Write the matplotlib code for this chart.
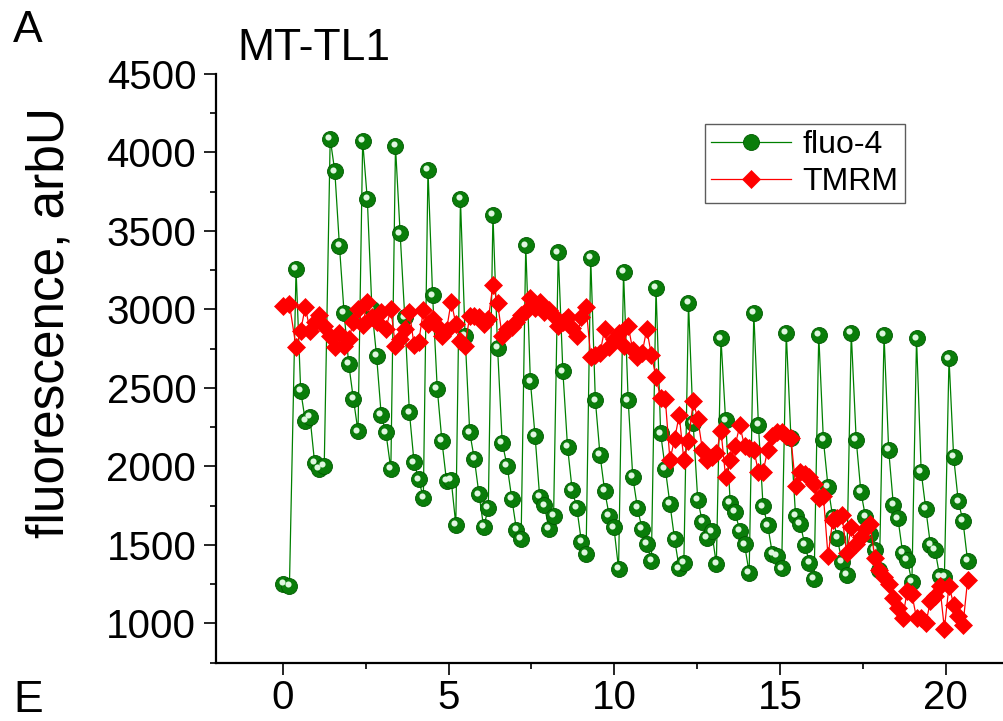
import matplotlib
matplotlib.use("Agg")
import matplotlib.pyplot as plt
import matplotlib.transforms as mtransforms
from matplotlib.ticker import MultipleLocator

plt.rcParams['font.family'] = ['Liberation Sans', 'DejaVu Sans']

# ---- data (time in arbitrary units, fluorescence in arbU) ----
time_pre = [0.02, 0.20, 0.40, 0.54, 0.68, 0.82, 0.96, 1.10, 1.25]
time_main = [
    1.43, 1.57, 1.71, 1.85, 1.99, 2.13, 2.27, 2.41, 2.55, 2.69, 2.83, 2.97, 3.11, 3.26,
    3.40, 3.54, 3.68, 3.82, 3.96, 4.10, 4.24, 4.38, 4.52, 4.66, 4.80, 4.94, 5.08, 5.22,
    5.36, 5.50, 5.64, 5.78, 5.92, 6.06, 6.20, 6.34, 6.48, 6.62, 6.77, 6.91, 7.05, 7.19,
    7.33, 7.47, 7.61, 7.75, 7.89, 8.03, 8.17, 8.31, 8.45, 8.59, 8.73, 8.87, 9.01, 9.15,
    9.29, 9.43, 9.57, 9.71, 9.85, 9.99, 10.13, 10.28, 10.42, 10.56, 10.70, 10.84, 10.98, 11.12,
    11.26, 11.40, 11.54, 11.68, 11.82, 11.96, 12.10, 12.24, 12.38, 12.52, 12.66, 12.80, 12.94, 13.08,
    13.22, 13.36, 13.50, 13.64, 13.79, 13.93, 14.07, 14.21, 14.35, 14.49, 14.63, 14.77, 14.91, 15.05,
    15.19, 15.33, 15.47, 15.61, 15.75, 15.89, 16.03, 16.17, 16.31, 16.45, 16.59, 16.73, 16.87, 17.01,
    17.15, 17.30, 17.44, 17.58, 17.72, 17.86, 18.00, 18.14, 18.28, 18.42, 18.56, 18.70, 18.84, 18.98,
    19.12, 19.26, 19.40, 19.54, 19.68, 19.82, 19.96, 20.10, 20.24, 20.38, 20.52, 20.66,
]
time = time_pre + time_main

fluo4 = [
    1252, 1237, 3257, 2482, 2289, 2316, 2024, 1982, 2002,
    4088, 3879, 3403, 2976, 2651, 2430, 2224,
    4072, 3702, 3000, 2702, 2327, 2217, 1982,
    4040, 3485, 2950, 2344, 2026, 1917, 1800,
    3890, 3090, 2496, 2164, 1906, 1914, 1629,
    3702, 2831, 2217, 2046, 1822, 1614, 1735,
    3605, 2754, 2151, 2002, 1794, 1597, 1537,
    3408, 2542, 2197, 1807, 1752, 1603, 1686,
    3364, 2605, 2127, 1851, 1735, 1520, 1445,
    3329, 2421, 2075, 1844, 1686, 1612, 1349,
    3237, 2421, 1932, 1735, 1603, 1509, 1399,
    3138, 2210, 1987, 1763, 1537, 1351, 1384,
    3044, 2276, 1785, 1647, 1544, 1586, 1377,
    2816, 2294, 1768, 1713, 1588, 1504, 1322,
    2980, 2265, 1746, 1625, 1445, 1428, 1351,
    2849, 2184, 1686, 1636, 1500, 1384, 1285,
    2838, 2167, 1871, 1680, 1545, 1390, 1307,
    2851, 2169, 1838, 1680, 1570, 1467, 1340,
    2836, 2103, 1757, 1669, 1450, 1406, 1263,
    2816, 1965, 1728, 1500, 1467, 1300, 1296,
    2689, 2059, 1778, 1653, 1399,
]

tmrm = [
    3025, 3035, 2760, 2866, 3017, 2866, 2920, 2963, 2897,
    2830, 2760, 2850, 2765, 2810, 2920, 3000, 2900, 3050, 2950, 2920, 2985, 2875, 3005,
    2765, 2810, 2875, 2985, 2775, 2790, 2995,
    2910, 2940, 2897, 2830, 2870, 3050, 2910, 2800, 2765, 2960, 2960, 2950, 2910, 2940,
    3154, 3040, 2830, 2875, 2886, 2920,
    2963, 2990, 3072, 3007, 3050, 2985, 2996, 2960, 2897, 2919, 2952, 2880, 2831, 2950,
    3018, 2700, 2710, 2721, 2875, 2760, 2809, 2853, 2765,
    2897, 2740, 2700, 2721, 2875, 2711, 2568, 2436, 2430, 2042, 2173, 2327, 2042, 2162,
    2414, 2305, 2107, 2042, 2060, 2086, 2228, 1932, 2042, 2129, 2261, 2129, 2118, 2107,
    1965, 1965, 2107, 2195, 2217, 2217, 2195, 2184, 1877, 1965, 1954, 1932, 1888, 1800, 1811,
    1428, 1658, 1670, 1691, 1450, 1614, 1504, 1548, 1600, 1636, 1417, 1340, 1296, 1252,
    1164, 1100, 1033, 1208, 1186, 1033, 1033, 1000, 1143, 1176, 1241, 967, 1241, 1120,
    1050, 989, 1274,
]

series_labels = ["fluo-4", "TMRM"]
x_ticks = [0, 5, 10, 15, 20]
y_ticks = [1000, 1500, 2000, 2500, 3000, 3500, 4000, 4500]

W, H = 1004, 721
fig = plt.figure(figsize=(W / 100, H / 100), dpi=100)
ax = fig.add_axes([216.5 / W, (H - 662.7) / H, (1012 - 216.5) / W, (662.7 - 74) / H])

green = '#008000'
red = '#ff0000'

lg, = ax.plot(time, fluo4, '-', color=green, lw=0.9, marker='o', ms=11.5,
              mfc='#0a7d0a', mec='#005a00', mew=0.6, zorder=2, label=series_labels[0])
# glossy highlight on green balls
hl = mtransforms.offset_copy(ax.transData, fig=fig, x=-1.8, y=1.8, units='dots')
ax.plot(time, fluo4, 'o', ms=4.4, mfc='#dff7df', mec='none', transform=hl, zorder=2.1)

lr, = ax.plot(time, tmrm, '-', color=red, lw=0.9, marker='D', ms=9,
              mfc=red, mec=red, mew=0.5, zorder=3, label=series_labels[1])

ax.set_xlim(-2, 22)
ax.set_ylim(750, 4500)
ax.set_xticks(x_ticks)
ax.set_yticks(y_ticks)
ax.xaxis.set_minor_locator(MultipleLocator(2.5))
ax.yaxis.set_minor_locator(MultipleLocator(250))

for s in ['top', 'right']:
    ax.spines[s].set_visible(False)
for s in ['left', 'bottom']:
    ax.spines[s].set_linewidth(1.6)
ax.tick_params(which='major', direction='out', length=8.5, width=1.2, labelsize=29)
ax.tick_params(axis='y', which='major', pad=6)
ax.tick_params(axis='x', which='major', pad=3)
ax.tick_params(which='minor', direction='out', length=4.3, width=1.2)

leg = ax.legend(handles=[lg, lr], loc='upper left',
                bbox_to_anchor=(705 / W, 1 - 124 / H), bbox_transform=fig.transFigure,
                fontsize=23, frameon=True, fancybox=False, edgecolor='#333333',
                handlelength=2.5, handletextpad=0.35, borderpad=0.2, labelspacing=0.2,
                borderaxespad=0)
leg.get_frame().set_linewidth(1.0)

fig.text(13 / W, 1 - 42 / H, 'A', fontsize=32, ha='left', va='baseline')
fig.text(237 / W, 1 - 60 / H, 'MT-TL1', fontsize=32, ha='left', va='baseline')
fig.text(13 / W, 1 - 712 / H, 'E', fontsize=32, ha='left', va='baseline')
fig.text(50 / W, 1 - 322 / H, 'fluorescence, arbU', fontsize=37, rotation=90,
         ha='center', va='center')

fig.savefig('out.png', dpi=100)
